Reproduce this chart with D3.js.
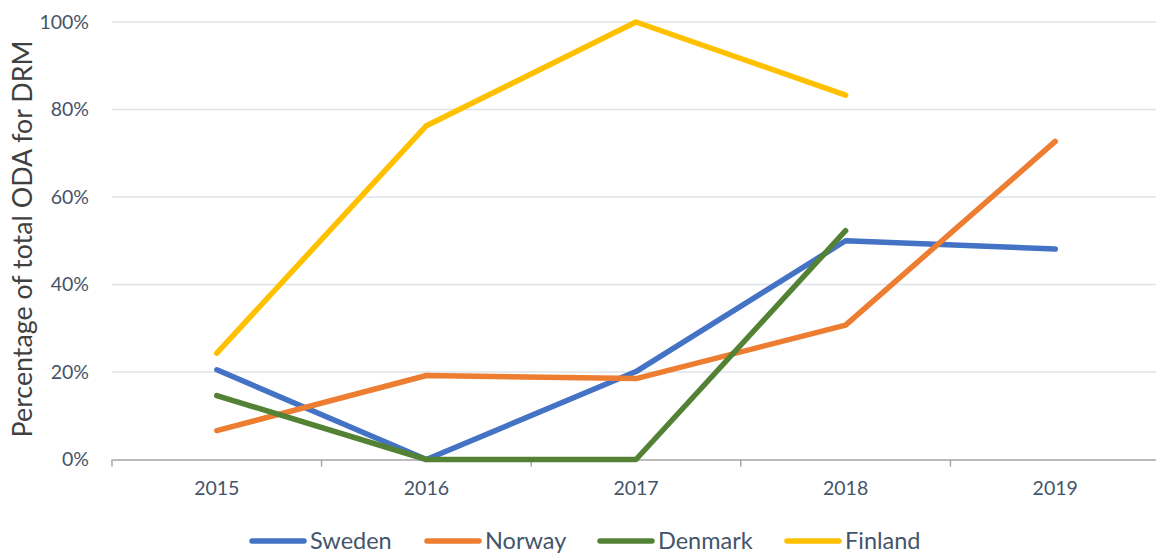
<!DOCTYPE html>
<html><head><meta charset="utf-8">
<script src="https://cdn.jsdelivr.net/npm/d3@7"></script>
<style>body{margin:0;background:#fff;} svg{display:block;}</style>
</head><body>
<svg id="c" width="1156" height="554"></svg>
<script>
const years = ["2015","2016","2017","2018","2019"];
const yTicks = [0,20,40,60,80,100];
const sweden  = [20.5, 0, 20.1, 50.0, 48.1];
const norway  = [6.6, 19.2, 18.5, 30.7, 72.7];
const denmark = [14.6, 0, 0, 52.3, null];
const finland = [24.3, 76.3, 100, 83.3, null];
const seriesNames = ["Sweden","Norway","Denmark","Finland"];
const seriesColors = ["#4472C4","#ED7D31","#548235","#FFC000"];
const seriesData = [sweden, norway, denmark, finland];

const svg = d3.select("#c");
const x = d3.scaleBand().domain(years).range([112, 1160]);
const y = d3.scaleLinear().domain([0,100]).range([459.5, 22]);
const font = "Lato, 'Open Sans', sans-serif";
const txt = "#44546A";

// gridlines
svg.append("g").selectAll("line").data(yTicks.filter(d=>d>0)).join("line")
  .attr("x1",112).attr("x2",1156).attr("y1",d=>y(d)).attr("y2",d=>y(d))
  .attr("stroke","#DEE2E8").attr("stroke-width",1.3);

// y tick labels
svg.append("g").selectAll("text").data(yTicks).join("text")
  .attr("x",89).attr("y",d=>y(d)).attr("dy","0.35em").attr("text-anchor","end")
  .attr("font-family",font).attr("font-size",19.5).attr("fill",txt)
  .text(d=>d+"%");

// x axis
const xa = svg.append("g").attr("transform","translate(0,459.5)")
  .call(d3.axisBottom(x).tickSize(0).tickPadding(22));
xa.select(".domain").attr("stroke","#A6A6A6").attr("stroke-width",1.5);
xa.selectAll("text").attr("font-family",font).attr("font-size",19.5).attr("fill",txt);
const bounds = years.map(d=>x(d)).concat([1160]);
xa.append("g").selectAll("line").data(bounds).join("line")
  .attr("x1",d=>d).attr("x2",d=>d).attr("y1",0).attr("y2",7)
  .attr("stroke","#A6A6A6").attr("stroke-width",1.5);

// y axis title
svg.append("text").attr("transform","translate(32,239) rotate(-90)")
  .attr("text-anchor","middle").attr("font-family",font).attr("font-size",26.8)
  .attr("fill","#404040").text("Percentage of total ODA for DRM");

// lines
const line = d3.line().defined(d=>d.v!==null)
  .x(d=>x(d.yr)+x.bandwidth()/2).y(d=>y(d.v));
seriesData.forEach((s,i)=>{
  svg.append("path").datum(s.map((v,j)=>({yr:years[j],v})))
    .attr("d",line).attr("fill","none").attr("stroke",seriesColors[i])
    .attr("stroke-width",5.5).attr("stroke-linecap","round").attr("stroke-linejoin","round");
});

// legend
const legX = [250, 425, 598, 785];
const lg = svg.append("g");
seriesNames.forEach((n,i)=>{
  lg.append("line").attr("x1",legX[i]+2).attr("x2",legX[i]+54).attr("y1",541).attr("y2",541)
    .attr("stroke",seriesColors[i]).attr("stroke-width",5.5).attr("stroke-linecap","round");
  lg.append("text").attr("x",legX[i]+60).attr("y",541).attr("dy","0.35em")
    .attr("font-family",font).attr("font-size",23.5).attr("fill",txt).text(n);
});
</script>
</body></html>
